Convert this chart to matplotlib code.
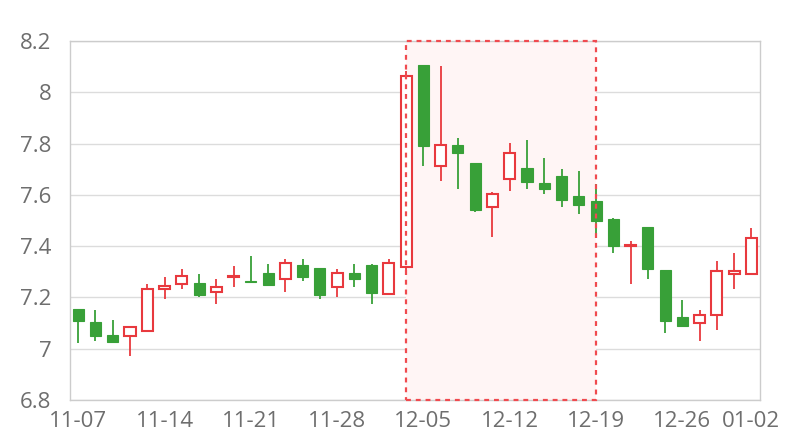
import matplotlib
matplotlib.use("Agg")
import matplotlib.pyplot as plt
from matplotlib.patches import Rectangle

# 日期（交易日）
dates = ["11-07", "11-08", "11-09", "11-10", "11-11",
         "11-14", "11-15", "11-16", "11-17", "11-18",
         "11-21", "11-22", "11-23", "11-24", "11-25",
         "11-28", "11-29", "11-30", "12-01", "12-02",
         "12-05", "12-06", "12-07", "12-08", "12-09",
         "12-12", "12-13", "12-14", "12-15", "12-16",
         "12-19", "12-20", "12-21", "12-22", "12-23",
         "12-26", "12-27", "12-28", "12-29", "01-02"]

# OHLC 데이터
opens = [7.154, 7.104, 7.053, 7.050, 7.070, 7.232, 7.251, 7.255, 7.221, 7.281,
         7.262, 7.294, 7.271, 7.325, 7.313, 7.242, 7.294, 7.325, 7.212, 7.320,
         8.107, 7.712, 7.795, 7.725, 7.551, 7.662, 7.706, 7.645, 7.675, 7.595,
         7.575, 7.504, 7.402, 7.474, 7.306, 7.125, 7.099, 7.130, 7.290, 7.290]
closes = [7.109, 7.050, 7.027, 7.083, 7.233, 7.244, 7.285, 7.209, 7.242, 7.283,
          7.260, 7.250, 7.333, 7.281, 7.209, 7.294, 7.271, 7.218, 7.333, 8.064,
          7.790, 7.794, 7.762, 7.540, 7.604, 7.764, 7.650, 7.621, 7.580, 7.560,
          7.499, 7.399, 7.404, 7.310, 7.109, 7.088, 7.133, 7.304, 7.304, 7.433]
lows = [7.021, 7.031, 7.021, 6.972, 7.070, 7.193, 7.233, 7.203, 7.174, 7.242,
        7.260, 7.250, 7.222, 7.263, 7.193, 7.203, 7.242, 7.173, 7.212, 7.287,
        7.713, 7.654, 7.624, 7.533, 7.434, 7.615, 7.624, 7.604, 7.554, 7.524,
        7.444, 7.374, 7.252, 7.272, 7.062, 7.083, 7.031, 7.073, 7.233, 7.290]
highs = [7.155, 7.151, 7.112, 7.088, 7.252, 7.281, 7.311, 7.291, 7.271, 7.322,
         7.361, 7.330, 7.351, 7.351, 7.313, 7.311, 7.330, 7.330, 7.351, 8.084,
         8.107, 8.102, 7.823, 7.725, 7.612, 7.801, 7.812, 7.742, 7.702, 7.692,
         7.641, 7.511, 7.420, 7.474, 7.306, 7.190, 7.150, 7.342, 7.372, 7.472]

# 강조 구간 (markArea)
area_start = "12-02"
area_end = "12-19"

y_ticks = [6.8, 7.0, 7.2, 7.4, 7.6, 7.8, 8.0, 8.2]
y_labels = ["6.8", "7", "7.2", "7.4", "7.6", "7.8", "8", "8.2"]
x_label_idx = [0, 5, 10, 15, 20, 25, 30, 35, 39]

up_color = "#e8393e"
down_color = "#38a038"
text_color = "#6e6e6e"

plt.rcParams["font.family"] = ["Open Sans", "DejaVu Sans"]

fig = plt.figure(figsize=(8, 4.4), dpi=100)
ax = fig.add_axes([0.087, 0.091, 0.863, 0.816])

n = len(dates)
w = 0.64
for i in range(n):
    o, c, lo, hi = opens[i], closes[i], lows[i], highs[i]
    if c >= o:
        ax.vlines(i, lo, hi, color=up_color, linewidth=1.3, zorder=3)
        ax.add_patch(Rectangle((i - w / 2, o), w, c - o, facecolor="white",
                               edgecolor=up_color, linewidth=1.5, zorder=4))
    else:
        ax.vlines(i, lo, hi, color=down_color, linewidth=1.3, zorder=3)
        ax.add_patch(Rectangle((i - w / 2, c), w, o - c, facecolor=down_color,
                               edgecolor=down_color, linewidth=0.8, zorder=4))

# 강조 영역
x0 = dates.index(area_start)
x1 = dates.index(area_end)
ax.add_patch(Rectangle((x0, 6.8), x1 - x0, 1.4, facecolor="#fff5f5",
                       edgecolor="none", zorder=1))
ax.add_patch(Rectangle((x0, 6.8), x1 - x0, 1.4, facecolor="none",
                       edgecolor="#f04a4f", linewidth=1.6,
                       linestyle=(0, (2.2, 2.2)), zorder=5, clip_on=False))

ax.set_xlim(-0.5, n - 0.5)
ax.set_ylim(6.8, 8.2)
ax.set_yticks(y_ticks)
ax.set_yticklabels(y_labels)
ax.set_xticks(x_label_idx)
ax.set_xticklabels([dates[i] for i in x_label_idx])
ax.tick_params(axis="both", length=0, labelsize=16, colors=text_color)
ax.tick_params(axis="y", pad=13)
ax.tick_params(axis="x", pad=8)

ax.grid(axis="y", color="#dcdcdc", linewidth=1, zorder=0)
ax.set_axisbelow(True)
for s in ax.spines.values():
    s.set_color("#cccccc")
    s.set_linewidth(1)

plt.savefig("out.png", dpi=100)
